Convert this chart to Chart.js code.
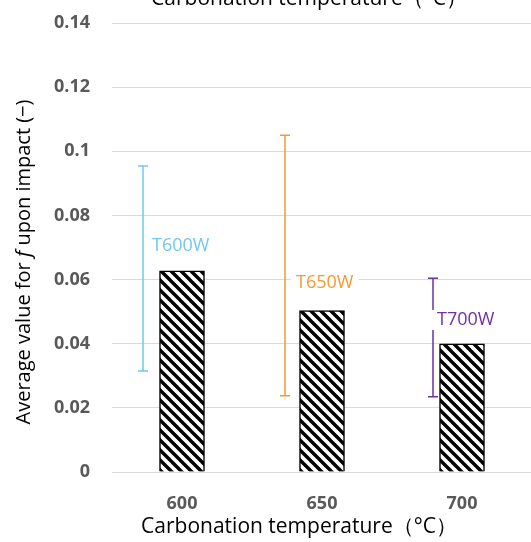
<!DOCTYPE html>
<html>
<head>
<meta charset="utf-8">
<script src="https://cdn.jsdelivr.net/npm/chart.js@4"></script>
<style>
  body { margin: 0; overflow: hidden; background: #fff; }
  #wrap { position: absolute; left: 0; top: 0; width: 531px; height: 542px; overflow: hidden; }
</style>
</head>
<body>
<div id="wrap"><canvas id="grafico" width="532" height="542"></canvas></div>
<script>
// datos
var temperaturas = ['600', '650', '700'];
var valoresMedios = [0.0627, 0.0503, 0.0400];
var errorSuperior = [0.0954, 0.1050, 0.0604];
var errorInferior = [0.0315, 0.0238, 0.0235];
var muestras = ['T600W', 'T650W', 'T700W'];
var ticksY = [0, 0.02, 0.04, 0.06, 0.08, 0.1, 0.12, 0.14];

var coloresMuestra = ['#72c7ef', '#f39a35', '#7030a0'];
var fuente = '"Open Sans", "Noto Sans", sans-serif';

// patron rayado
function rayado() {
    var n = 10;
    var c = document.createElement('canvas');
    c.width = n; c.height = n;
    var g = c.getContext('2d');
    g.fillStyle = '#fff';
    g.fillRect(0, 0, n, n);
    g.strokeStyle = '#000';
    g.lineWidth = 3.4;
    g.beginPath();
    g.moveTo(-2, -2); g.lineTo(n + 2, n + 2);
    g.moveTo(-n - 2, -2); g.lineTo(2, n + 2);
    g.moveTo(n - 2, -2); g.lineTo(2 * n + 2, n + 2);
    g.stroke();
    return g.createPattern(c, 'repeat');
}

var errores = {
    id: 'errores',
    afterDatasetsDraw: function (chart) {
        var ctx = chart.ctx;
        var x = chart.scales.x, y = chart.scales.y;
        var desplaz = [-39, -37, -29];
        var etiquetaY = [0.0705, 0.059, 0.0474];
        var etiquetaDx = [9, 11, 4];
        ctx.save();
        for (var i = 0; i < temperaturas.length; i++) {
            var px = x.getPixelForValue(i) + desplaz[i];
            var y1 = y.getPixelForValue(errorSuperior[i]);
            var y2 = y.getPixelForValue(errorInferior[i]);
            ctx.strokeStyle = coloresMuestra[i];
            ctx.lineWidth = 1.5;
            ctx.beginPath();
            ctx.moveTo(px, y1); ctx.lineTo(px, y2);
            ctx.moveTo(px - 5, y1); ctx.lineTo(px + 5, y1);
            ctx.moveTo(px - 5, y2); ctx.lineTo(px + 5, y2);
            ctx.stroke();

            ctx.font = '18px ' + fuente;
            ctx.textBaseline = 'middle';
            ctx.textAlign = 'left';
            var tx = px + etiquetaDx[i];
            var ty = y.getPixelForValue(etiquetaY[i]);
            var w = ctx.measureText(muestras[i]).width;
            ctx.fillStyle = '#fff';
            ctx.fillRect(tx - 5, ty - 10, w + 10, 20);
            ctx.fillStyle = coloresMuestra[i];
            ctx.fillText(muestras[i], tx, ty);
        }
        ctx.restore();
    }
};

var titulos = {
    id: 'titulos',
    afterDraw: function (chart) {
        var ctx = chart.ctx;
        ctx.save();
        ctx.fillStyle = '#000';
        ctx.font = '21px ' + fuente;
        ctx.textAlign = 'center';
        ctx.textBaseline = 'middle';
        ctx.fillText('Carbonation temperature（°C）', 299, 527);
        ctx.textBaseline = 'alphabetic';
        ctx.fillText('Carbonation temperature（°C）', 309, 5);

        // titulo eje Y con f en cursiva
        var partes = [['Average value for ', '20px '], ['f', 'italic 20px '], [' upon impact (\u2212)', '20px ']];
        var total = 0;
        partes.forEach(function (p) { ctx.font = p[1] + fuente; total += ctx.measureText(p[0]).width; });
        ctx.translate(24, 262);
        ctx.rotate(-Math.PI / 2);
        ctx.textAlign = 'left';
        ctx.textBaseline = 'middle';
        var pos = -total / 2;
        partes.forEach(function (p) {
            ctx.font = p[1] + fuente;
            ctx.fillText(p[0], pos, 0);
            pos += ctx.measureText(p[0]).width;
        });
        ctx.restore();
    }
};

var ctx = document.getElementById('grafico').getContext('2d');
var chart = new Chart(ctx, {
    type: 'bar',
    data: {
        labels: temperaturas,
        datasets: [{
            data: valoresMedios,
            backgroundColor: rayado(),
            borderColor: '#000',
            borderWidth: 1.5,
            barThickness: 45
        }]
    },
    options: {
        responsive: false,
        animation: false,
        layout: { padding: { top: 23, left: 0, right: 0, bottom: 0 } },
        plugins: { legend: { display: false }, tooltip: { enabled: false } },
        scales: {
            x: {
                grid: { display: false },
                border: { display: false },
                ticks: { color: '#595959', font: { family: fuente, size: 18, weight: 'bold' }, padding: 13 },
                afterFit: function (s) { s.height = 70; s.paddingLeft = 0; s.paddingRight = 0; }
            },
            y: {
                min: 0,
                max: 0.14,
                afterBuildTicks: function (s) { s.ticks = ticksY.map(function (v) { return { value: v }; }); },
                grid: { color: '#d9d9d9', lineWidth: 1, drawTicks: false },
                border: { display: false },
                ticks: {
                    color: '#595959',
                    font: { family: fuente, size: 18, weight: 'bold' },
                    padding: 22,
                    callback: function (v) { return String(Math.round(v * 100) / 100); }
                },
                afterFit: function (s) { s.width = 112; s.paddingTop = 0; s.paddingBottom = 0; }
            }
        }
    },
    plugins: [errores, titulos]
});
</script>
</body>
</html>
